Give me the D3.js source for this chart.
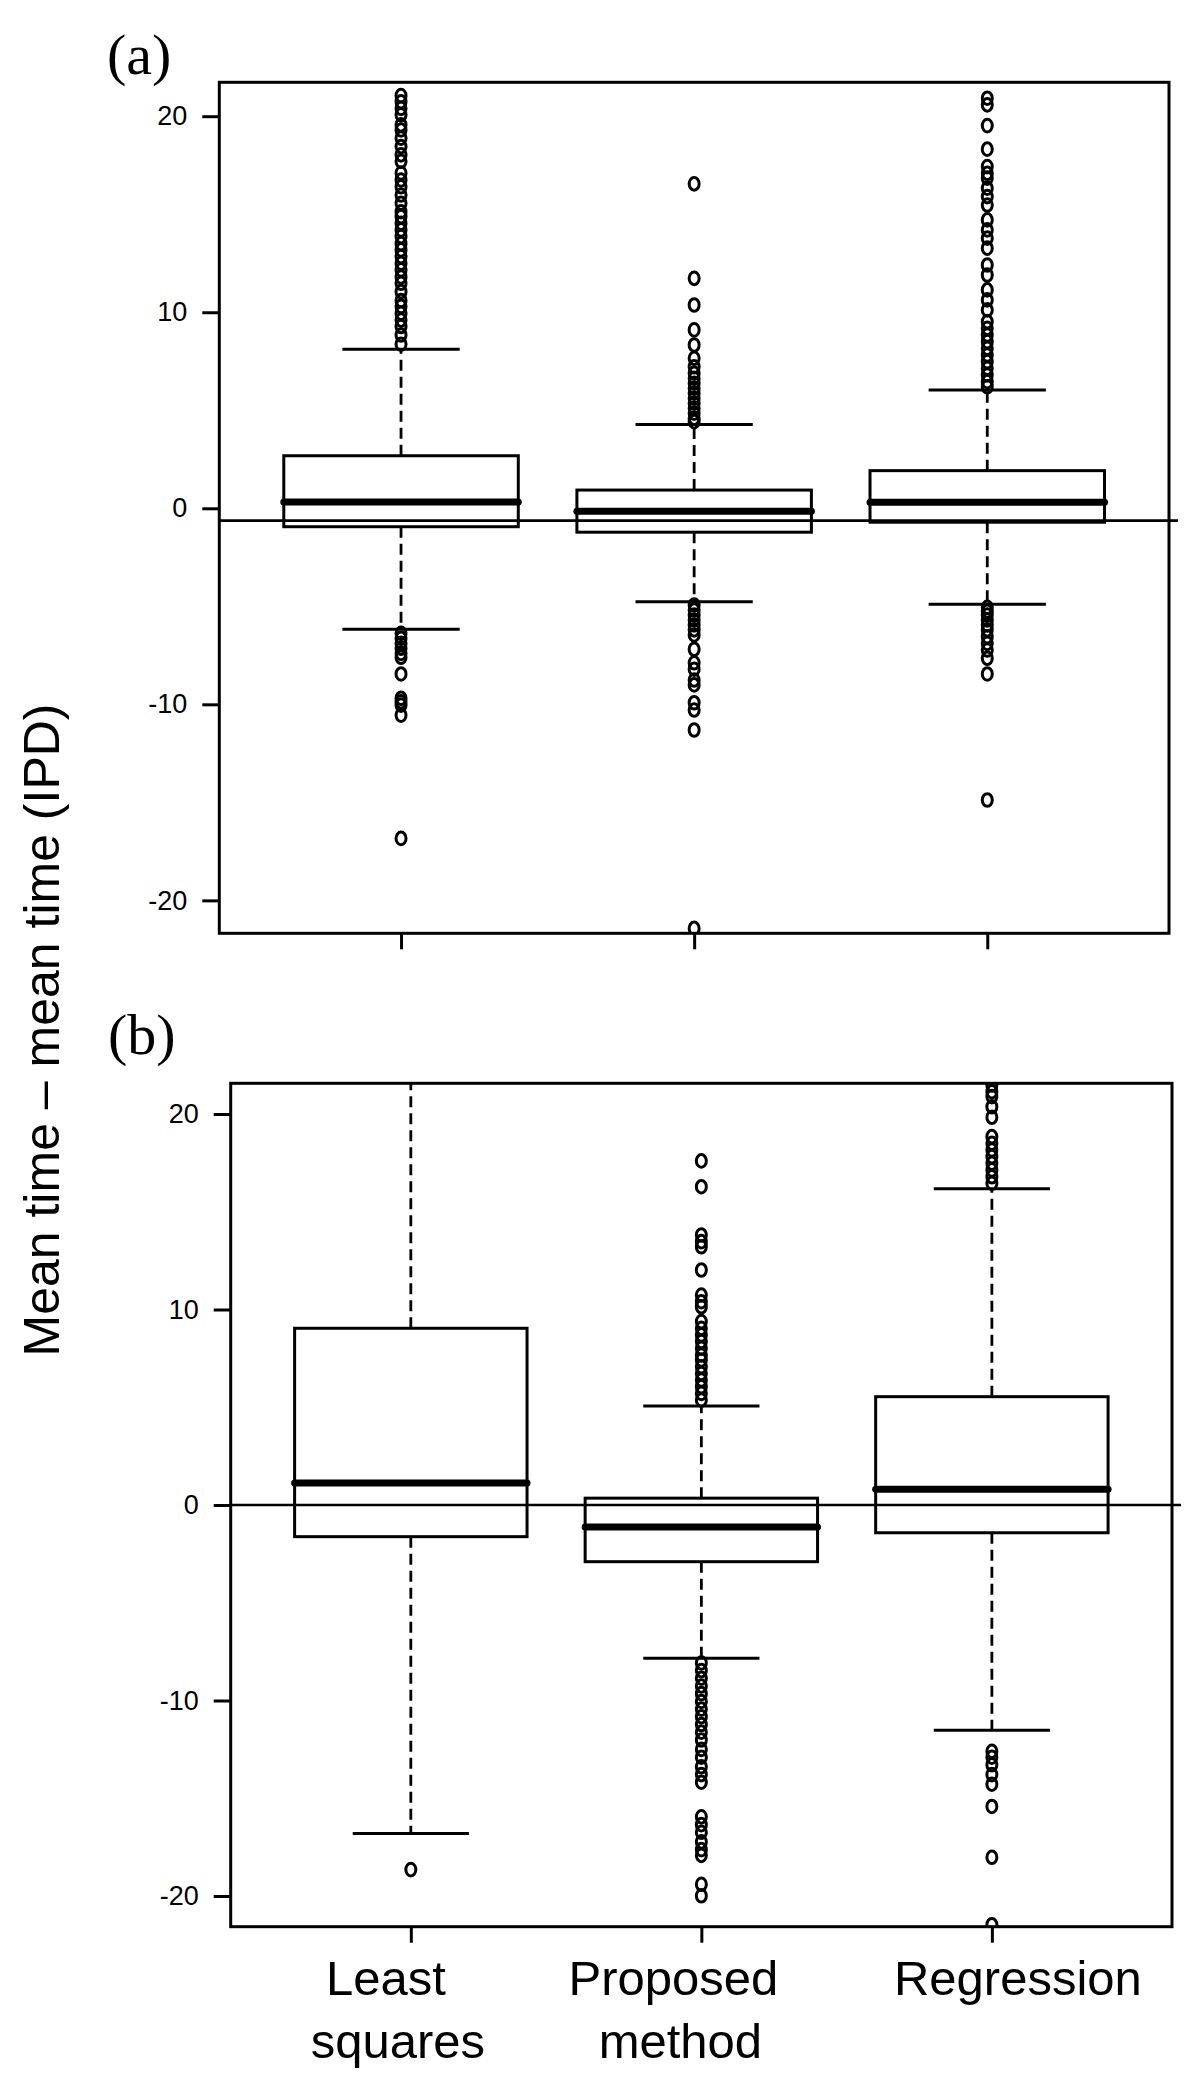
<!DOCTYPE html>
<html>
<head>
<meta charset="utf-8">
<script src="https://cdn.jsdelivr.net/npm/d3@7"></script>
<style>
  html, body { margin: 0; padding: 0; background: #fff; }
  svg { display: block; }
</style>
</head>
<body>
<svg id="chart" width="1200" height="2082"></svg>
<script>
// ---------------- DATA ----------------
const categories = ["Least squares", "Proposed method", "Regression"];
const categoryLabelLines = [["Least", "squares"], ["Proposed", "method"], ["Regression"]];
const yTicks = [-20, -10, 0, 10, 20];
const panelLabels = ["(a)", "(b)"];
const yAxisTitle = "Mean time \u2013 mean time (IPD)";

// Panel (a): box statistics per category
const aLowerWhisker = [-6.17, -4.77, -4.9];
const aQ1 = [-0.94, -1.22, -0.71];
const aMedian = [0.32, -0.15, 0.31];
const aQ3 = [2.68, 0.93, 1.92];
const aUpperWhisker = [8.11, 4.28, 6.04];
const aRefLine = -0.63;
const aOutliersLS = [8.37, 8.84, 9.27, 9.6, 9.95, 10.3, 10.6, 11.05, 11.48, 11.8, 12.16, 12.5, 12.84,
  13.18, 13.5, 13.86, 14.2, 14.54, 14.88, 15.13, 15.56, 15.98, 16.4, 16.75, 17.1, 17.7, 18.03,
  18.45, 18.88, 19.3, 19.56, 20.07, 20.4, 20.74, 21.05,
  -6.38, -6.63, -6.89, -7.14, -7.4, -7.6, -8.45, -9.69, -9.87, -10.04, -10.55, -16.84];
const aOutliersProposed = [16.55, 11.73, 10.37, 9.1, 8.33, 7.65, 7.22, 6.89, 6.63, 6.38, 6.12, 5.87,
  5.61, 5.36, 5.1, 4.85, 4.59, 4.42,
  -4.93, -5.19, -5.44, -5.7, -5.95, -6.2, -6.46, -7.19, -7.88, -8.21, -8.76, -9.01, -9.92, -10.29,
  -11.31, -21.43];
const aOutliersRegression = [20.92, 20.58, 19.52, 18.32, 17.43, 17.09, 16.84, 16.33, 15.9, 15.47,
  14.71, 14.2, 13.78, 13.27, 12.41, 11.9, 11.14, 10.63, 10.12, 9.52, 9.18, 8.84, 8.5, 8.16, 7.82,
  7.48, 7.14, 6.8, 6.46, 6.2,
  -5.05, -5.25, -5.44, -5.7, -5.95, -6.2, -6.55, -6.89, -7.23, -7.65, -8.45, -14.88];

// Panel (b): box statistics per category
const bLowerWhisker = [-16.8, -7.84, -11.52];
const bQ1 = [-1.62, -2.9, -1.42];
const bMedian = [1.12, -1.13, 0.8];
const bQ3 = [9.04, 0.35, 5.54];
const bUpperWhisker = [23.5, 5.06, 16.18];
const bRefLine = 0;
const bOutliersLS = [-18.65];
const bOutliersProposed = [17.6, 16.28, 13.81, 13.47, 13.21, 12.02, 10.74, 10.4, 10.14, 9.38, 9.04,
  8.7, 8.36, 8.02, 7.67, 7.42, 7.07, 6.73, 6.39, 6.05, 5.71, 5.37,
  -8.08, -8.47, -8.86, -9.26, -9.65, -10.05, -10.44, -10.83, -11.23, -11.62, -12.02, -12.5, -12.9,
  -13.39, -13.79, -14.18, -15.95, -16.35, -16.74, -17.23, -17.63, -17.92, -19.4, -19.99];
const bOutliersRegression = [21.48, 21.14, 20.89, 20.37, 19.83, 18.84, 18.5, 18.16, 17.82, 17.48,
  17.14, 16.79, 16.46,
  -12.6, -12.9, -13.29, -13.79, -14.28, -15.42, -18.02, -21.47];

// ---------------- LAYOUT ----------------
const panels = [
  { label: panelLabels[0], left: 219.3, right: 1169, top: 82.3, bottom: 933.3,
    yDomain: [-21.68, 21.73], labelX: 107, labelY: 74,
    lower: aLowerWhisker, q1: aQ1, med: aMedian, q3: aQ3, upper: aUpperWhisker,
    outliers: [aOutliersLS, aOutliersProposed, aOutliersRegression], ref: aRefLine, showNames: false },
  { label: panelLabels[1], left: 230.7, right: 1172, top: 1083.3, bottom: 1926.7,
    yDomain: [-21.57, 21.57], labelX: 108, labelY: 1054,
    lower: bLowerWhisker, q1: bQ1, med: bMedian, q3: bQ3, upper: bUpperWhisker,
    outliers: [bOutliersLS, bOutliersProposed, bOutliersRegression], ref: bRefLine, showNames: true }
];
const nameOffsets = [[-25, -13], [-28, -21], [26]];
const nameBaselines = [1995, 2058];

const svg = d3.select("#chart");
svg.append("rect").attr("width", 1200).attr("height", 2082).attr("fill", "#fff");

const sans = "'Liberation Sans', Arial, Helvetica, sans-serif";
const serif = "'Liberation Serif', 'Times New Roman', serif";

panels.forEach((p, pi) => {
  const x = d3.scaleLinear().domain([0.38, 3.62]).range([p.left, p.right]);
  const y = d3.scaleLinear().domain(p.yDomain).range([p.bottom, p.top]);
  const unit = x(2) - x(1);
  const g = svg.append("g");

  const clipId = "clip" + pi;
  svg.append("clipPath").attr("id", clipId).append("rect")
    .attr("x", p.left).attr("y", p.top)
    .attr("width", p.right - p.left).attr("height", p.bottom - p.top);

  const plot = g.append("g").attr("clip-path", `url(#${clipId})`);

  categories.forEach((c, i) => {
    const cx = x(i + 1);
    // whiskers
    plot.append("line").attr("x1", cx).attr("x2", cx)
      .attr("y1", y(p.q3[i])).attr("y2", y(p.upper[i]))
      .attr("stroke", "#000").attr("stroke-width", 2.8).attr("stroke-dasharray", "11,6");
    plot.append("line").attr("x1", cx).attr("x2", cx)
      .attr("y1", y(p.q1[i])).attr("y2", y(p.lower[i]))
      .attr("stroke", "#000").attr("stroke-width", 2.8).attr("stroke-dasharray", "11,6");
    // staples
    [p.upper[i], p.lower[i]].forEach(v => {
      plot.append("line").attr("x1", cx - 0.2 * unit).attr("x2", cx + 0.2 * unit)
        .attr("y1", y(v)).attr("y2", y(v))
        .attr("stroke", "#000").attr("stroke-width", 3);
    });
    // box
    plot.append("rect")
      .attr("x", cx - 0.4 * unit).attr("width", 0.8 * unit)
      .attr("y", y(p.q3[i])).attr("height", y(p.q1[i]) - y(p.q3[i]))
      .attr("fill", "none").attr("stroke", "#000").attr("stroke-width", 3);
    // median
    plot.append("line").attr("x1", cx - 0.4 * unit).attr("x2", cx + 0.4 * unit)
      .attr("y1", y(p.med[i])).attr("y2", y(p.med[i]))
      .attr("stroke", "#000").attr("stroke-width", 7).attr("stroke-linecap", "round");
    // outliers
    plot.selectAll(null).data(p.outliers[i]).enter().append("ellipse")
      .attr("cx", cx).attr("cy", d => y(d)).attr("rx", 5).attr("ry", 6.3)
      .attr("fill", "none").attr("stroke", "#000").attr("stroke-width", 3);
  });

  // reference line
  g.append("line").attr("x1", p.left).attr("x2", p.right + 9)
    .attr("y1", y(p.ref)).attr("y2", y(p.ref))
    .attr("stroke", "#000").attr("stroke-width", 2.6);

  // frame
  g.append("rect").attr("x", p.left).attr("y", p.top)
    .attr("width", p.right - p.left).attr("height", p.bottom - p.top)
    .attr("fill", "none").attr("stroke", "#000").attr("stroke-width", 3);

  // y axis
  const ya = g.append("g").attr("transform", `translate(${p.left},0)`)
    .call(d3.axisLeft(y).tickValues(yTicks).tickFormat(d => String(d)).tickSize(17).tickPadding(15));
  ya.select(".domain").remove();
  ya.selectAll(".tick line").attr("stroke", "#000").attr("stroke-width", 3);
  ya.selectAll(".tick text").attr("font-family", sans).attr("font-size", 27).attr("fill", "#000");

  // x axis ticks
  const xa = g.append("g").attr("transform", `translate(0,${p.bottom})`)
    .call(d3.axisBottom(x).tickValues([1, 2, 3]).tickFormat("").tickSize(16));
  xa.select(".domain").remove();
  xa.selectAll(".tick line").attr("stroke", "#000").attr("stroke-width", 3);

  // panel label
  svg.append("text").attr("x", p.labelX).attr("y", p.labelY)
    .attr("font-family", serif).attr("font-size", 58).attr("fill", "#000").text(p.label);

  if (p.showNames) {
    categoryLabelLines.forEach((lines, i) => {
      lines.forEach((t, li) => {
        svg.append("text").attr("x", x(i + 1) + nameOffsets[i][li]).attr("y", nameBaselines[li])
          .attr("text-anchor", "middle").attr("font-family", sans).attr("font-size", 49)
          .attr("fill", "#000").text(t);
      });
    });
  }
});

// y axis title
svg.append("text")
  .attr("transform", "translate(59,1030) rotate(-90)")
  .attr("text-anchor", "middle").attr("font-family", sans).attr("font-size", 50)
  .attr("fill", "#000").text(yAxisTitle);
</script>
</body>
</html>
